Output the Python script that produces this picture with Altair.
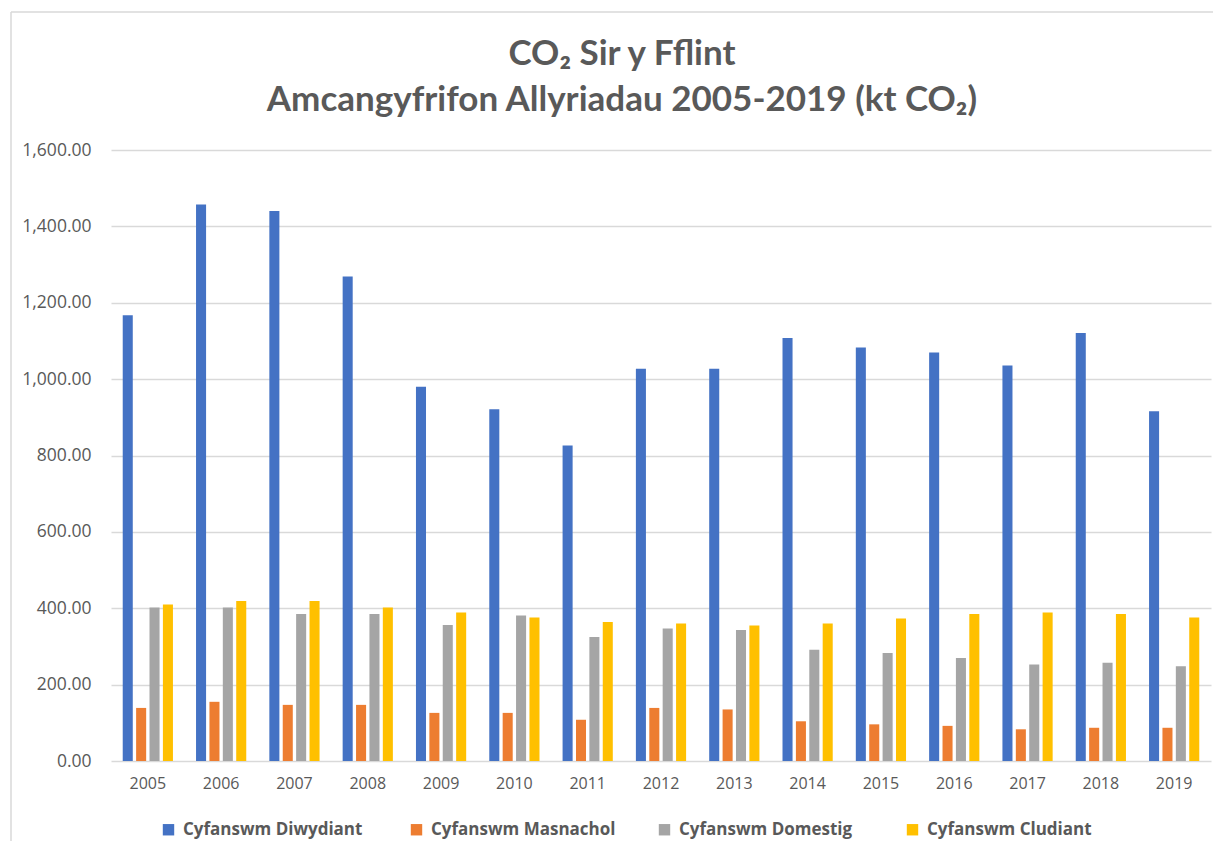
import altair as alt
import pandas as pd

years = [str(y) for y in range(2005, 2020)]
series = ["Cyfanswm Diwydiant", "Cyfanswm Masnachol", "Cyfanswm Domestig", "Cyfanswm Cludiant"]
diwydiant = [1167, 1457, 1440, 1269, 980, 921, 826, 1027, 1027, 1108, 1083, 1070, 1036, 1121, 916]
masnachol = [139, 155, 147, 147, 126, 126, 108, 139, 135, 104, 96, 92, 83, 87, 87]
domestig = [402, 402, 385, 385, 356, 381, 325, 347, 343, 291, 283, 270, 253, 257, 248]
cludiant = [410, 419, 419, 402, 389, 376, 364, 360, 355, 360, 373, 385, 389, 385, 376]
colors = ["#4472C4", "#ED7D31", "#A5A5A5", "#FFC000"]
y_ticks = [0, 200, 400, 600, 800, 1000, 1200, 1400, 1600]

rows = []
for name, vals in zip(series, [diwydiant, masnachol, domestig, cludiant]):
    for yr, v in zip(years, vals):
        rows.append({"year": yr, "series": name, "value": v})
df = pd.DataFrame(rows)

GREY = "#595959"
GRID = "#D9D9D9"

bars = alt.Chart(df).mark_bar().encode(
    x=alt.X("year:N", sort=years, title=None,
            scale=alt.Scale(paddingInner=0.315, paddingOuter=0.16),
            axis=alt.Axis(labelAngle=0, ticks=False, domain=False, labelFont="Open Sans",
                          labelFontSize=16, labelColor=GREY, labelPadding=14)),
    xOffset=alt.XOffset("series:N", sort=series,
                        scale=alt.Scale(paddingInner=0.25, paddingOuter=0)),
    y=alt.Y("value:Q", title=None,
            scale=alt.Scale(domain=[0, 1600], nice=False),
            axis=alt.Axis(values=y_ticks, format=",.2f", ticks=False, domain=False,
                          labelFont="Open Sans", labelFontSize=17.5, labelColor=GREY,
                          labelPadding=20, gridColor=GRID, gridWidth=1.3)),
    color=alt.Color("series:N", sort=series, title=None,
                    scale=alt.Scale(domain=series, range=colors),
                    legend=alt.Legend(orient="none", legendX=49, legendY=671, direction="horizontal",
                                      symbolType="square", symbolSize=130, symbolStrokeWidth=0,
                                      labelFont="Open Sans", labelFontSize=17, labelFontWeight="bold",
                                      labelColor=GREY, columnPadding=40, labelOffset=6,
                                      gridAlign="all", labelLimit=300)),
)

border = pd.DataFrame({"k": ["left", "top"]})
left_line = alt.Chart(border.iloc[[0]]).mark_rule(color=GRID, strokeWidth=1.5).encode(
    x=alt.value(-100), y=alt.value(-138), y2=alt.value(720))
top_line = alt.Chart(border.iloc[[1]]).mark_rule(color=GRID, strokeWidth=1.5).encode(
    x=alt.value(-100), x2=alt.value(1120), y=alt.value(-138))

chart = alt.layer(bars, left_line, top_line).properties(
    width=1100, height=611,
    autosize=alt.AutoSizeParams(type="none"),
    padding={"left": 103, "top": 142, "right": 2, "bottom": 80},
    title=alt.TitleParams(
        text=["CO₂ Sir y Fflint", "Amcangyfrifon Allyriadau 2005-2019 (kt CO₂)"],
        font="Lato", fontSize=35, fontWeight="bold", color=GREY, frame="group",
        lineHeight=46, anchor="middle", dx=-39, offset=-107),
).configure_view(stroke=None)

chart.save("out.html", embed_options={"renderer": "svg", "actions": False})
